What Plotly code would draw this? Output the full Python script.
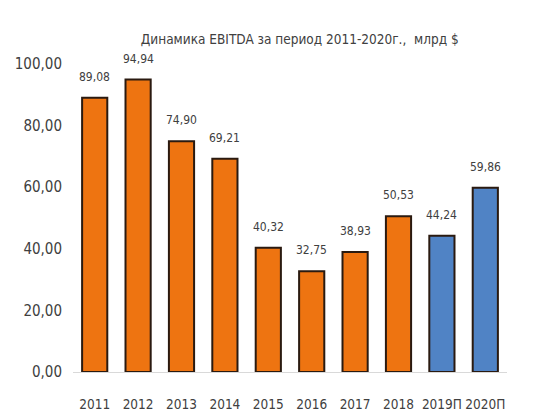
import plotly.graph_objects as go

categories = ["2011", "2012", "2013", "2014", "2015", "2016", "2017", "2018", "2019П", "2020П"]
values = [89.08, 94.94, 74.90, 69.21, 40.32, 32.75, 38.93, 50.53, 44.24, 59.86]
labels = ["89,08", "94,94", "74,90", "69,21", "40,32", "32,75", "38,93", "50,53", "44,24", "59,86"]
colors = ["#EE7411"] * 8 + ["#5083C5"] * 2
ytick_vals = [0, 20, 40, 60, 80, 100]
ytick_text = ["0,00", "20,00", "40,00", "60,00", "80,00", "100,00"]

font = "DejaVu Sans Condensed, Liberation Sans Narrow, sans-serif"
pos = list(range(len(categories)))

fig = go.Figure(go.Bar(
    x=pos, y=values,
    marker=dict(color=colors, line=dict(color="#2a1a10", width=2)),
    width=0.58,
))

for p, v, t in zip(pos, values, labels):
    fig.add_annotation(x=p, y=v, text=t, showarrow=False, yshift=21,
                       font=dict(family=font, size=12, color="#404040"))

fig.update_layout(
    width=550, height=417,
    margin=dict(l=73, r=43, t=64, b=45),
    paper_bgcolor="white", plot_bgcolor="white",
    showlegend=False,
    title=dict(text="Динамика EBITDA за период 2011-2020г.,  млрд $",
               x=0.545, xanchor="center", y=1 - 39/417, yanchor="middle",
               font=dict(family=font, size=13.5, color="#404040")),
    xaxis=dict(range=[-0.5, len(categories) - 0.5], tickvals=pos, ticktext=categories,
               showgrid=False, showline=True, linecolor="#D9D9D9", linewidth=1,
               zeroline=False, tickangle=0, automargin=False,
               tickfont=dict(family=font, size=13.5, color="#404040"),
               ticks="", ticklabelstandoff=20),
    yaxis=dict(range=[0, 100], showgrid=False, showline=False, zeroline=False,
               tickvals=ytick_vals, ticktext=ytick_text, automargin=False,
               tickfont=dict(family=font, size=15, color="#404040"),
               ticklabelstandoff=10),
)

fig.write_html("out.html")
